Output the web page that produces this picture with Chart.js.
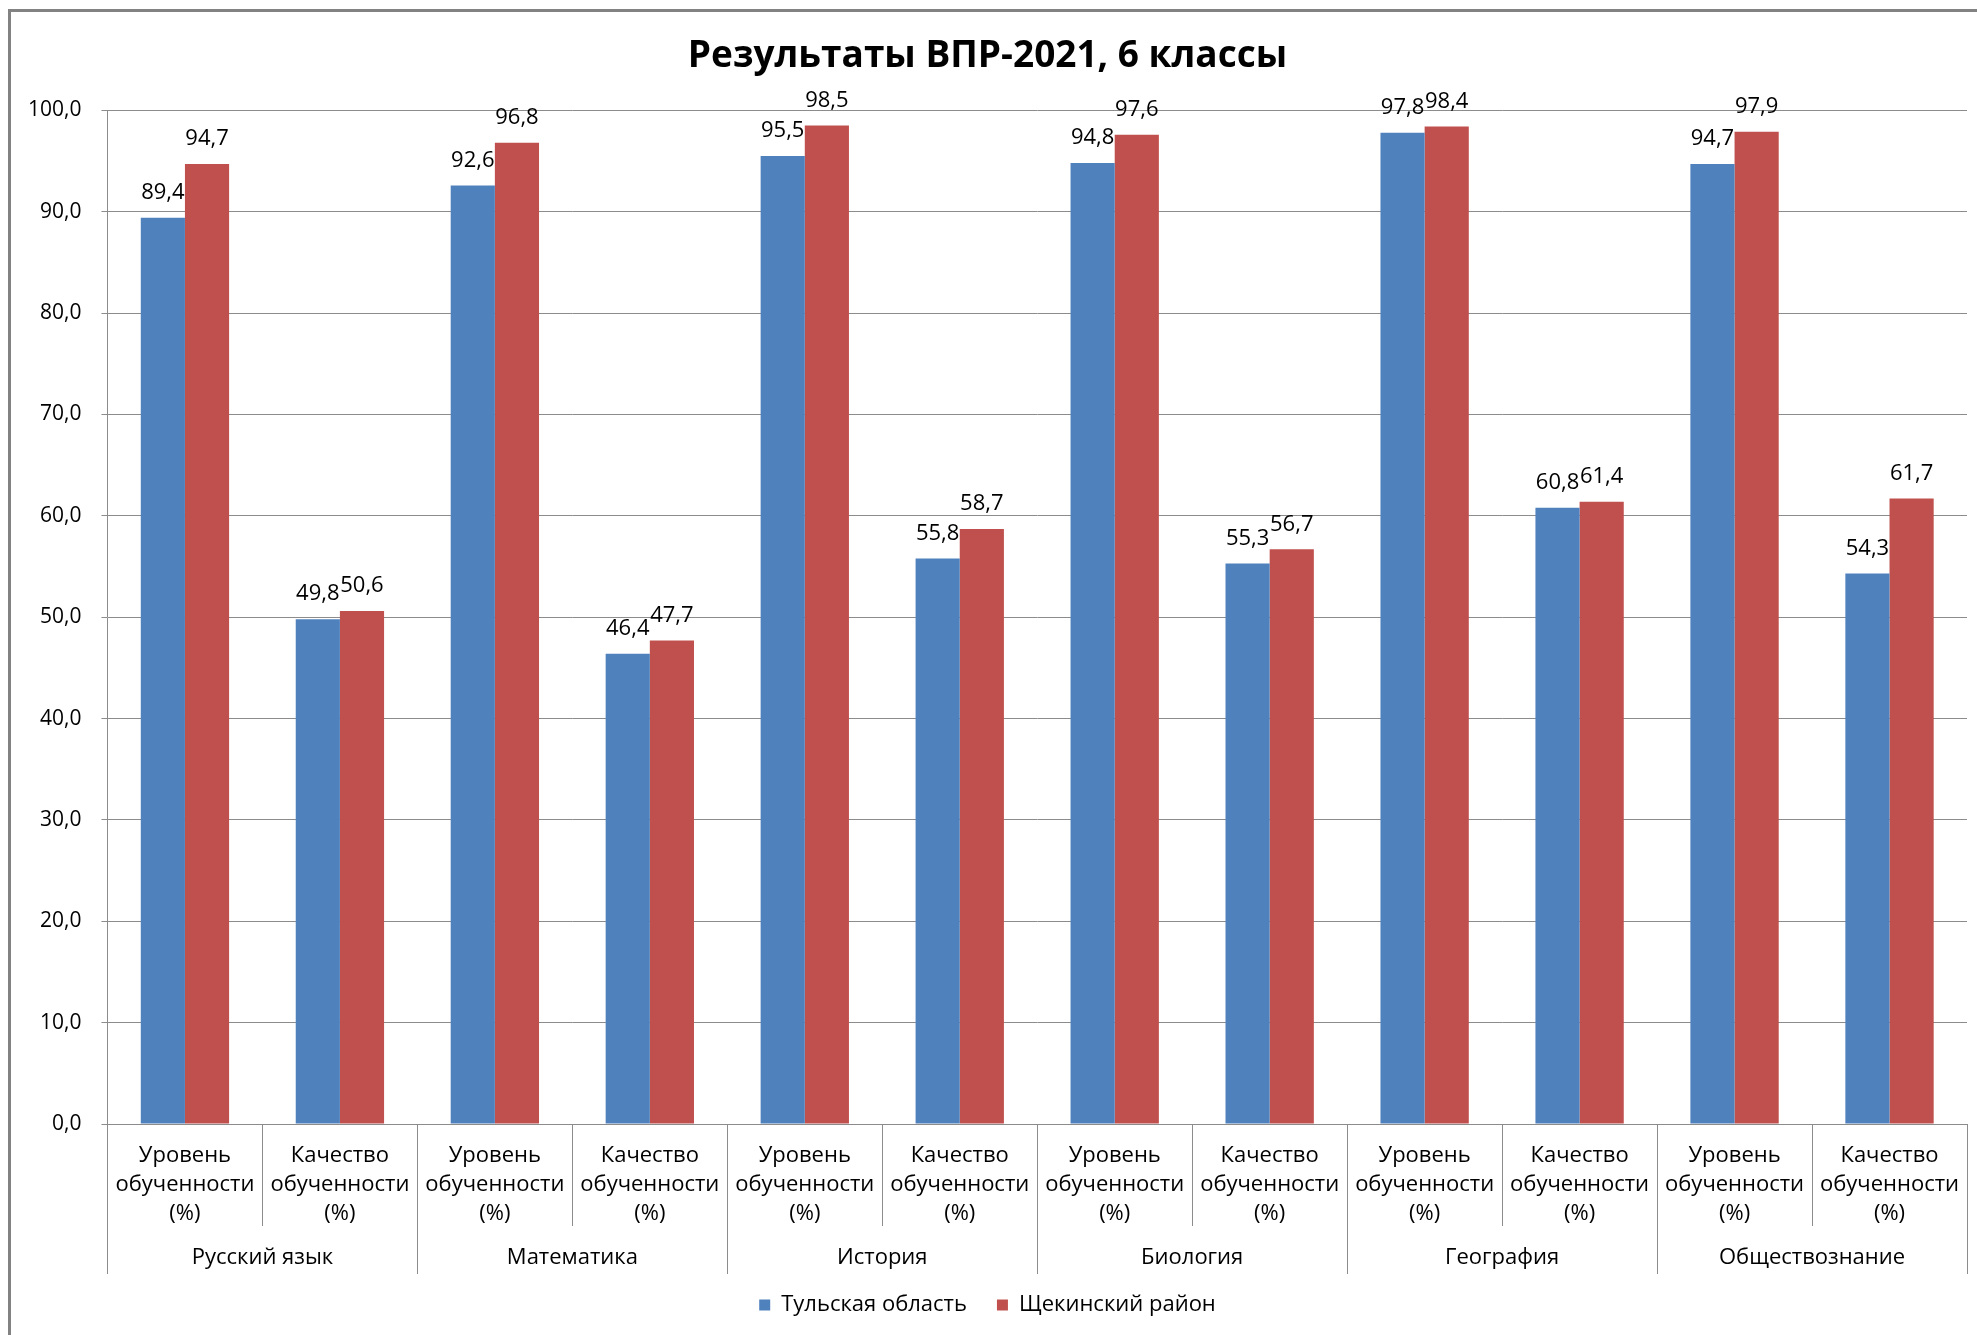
<!DOCTYPE html>
<html lang="ru">
<head>
<meta charset="utf-8">
<title>Результаты ВПР-2021, 6 классы</title>
<script src="https://cdn.jsdelivr.net/npm/chart.js@4"></script>
<style>
  html, body { margin: 0; padding: 0; background: #fff; overflow: hidden; }
  #frame {
    position: absolute; left: 8px; top: 9px;
    width: 2100px; height: 1500px;
    border: 3px solid #828282;
  }
  #chart { position: absolute; left: 0; top: 0; }
</style>
</head>
<body>
<div id="frame"></div>
<canvas id="chart" width="1977" height="1335"></canvas>
<script>
// categories
const subjects = ["Русский язык", "Математика", "История", "Биология", "География", "Обществознание"];
const measures = [
    ["Уровень", "обученности", "(%)"],
    ["Качество", "обученности", "(%)"]
];

// series values
const tulaRegion = [89.4, 49.8, 92.6, 46.4, 95.5, 55.8, 94.8, 55.3, 97.8, 60.8, 94.7, 54.3];
const shchekinoDistrict = [94.7, 50.6, 96.8, 47.7, 98.5, 58.7, 97.6, 56.7, 98.4, 61.4, 97.9, 61.7];

// y ticks
const yMin = 0, yMax = 100, yStep = 10;

const FONT = "'Open Sans', 'DejaVu Sans', sans-serif";
const TXT = 22;
const fmt = v => v.toFixed(1).replace(".", ",");

const labels = [];
subjects.forEach(() => measures.forEach(m => labels.push(m)));

// value labels above each bar
const barValues = {
    id: "barValues",
    afterDatasetsDraw(chart) {
        const ctx = chart.ctx;
        ctx.save();
        ctx.font = TXT + "px " + FONT;
        ctx.fillStyle = "#000";
        ctx.textAlign = "center";
        ctx.textBaseline = "middle";
        chart.data.datasets.forEach((ds, i) => {
            chart.getDatasetMeta(i).data.forEach((bar, j) => {
                ctx.fillText(fmt(ds.data[j]), bar.x, bar.y - 25);
            });
        });
        ctx.restore();
    }
};

// two-level category axis: dividers + subject names
const groupAxis = {
    id: "groupAxis",
    afterDraw(chart) {
        const x = chart.scales.x;
        const ctx = chart.ctx;
        const n = labels.length;
        const top = x.top;
        const innerBottom = top + 102;
        const groupBottom = top + 150;
        const edge = i => {
            if (i === 0) return x.left;
            if (i === n) return x.right;
            return (x.getPixelForValue(i - 1) + x.getPixelForValue(i)) / 2;
        };
        ctx.save();
        ctx.strokeStyle = "#8c8c8c";
        ctx.lineWidth = 1;
        for (let i = 0; i <= n; i++) {
            const px = Math.round(edge(i)) + 0.5;
            ctx.beginPath();
            ctx.moveTo(px, top);
            ctx.lineTo(px, i % measures.length === 0 ? groupBottom : innerBottom);
            ctx.stroke();
        }
        ctx.font = TXT + "px " + FONT;
        ctx.fillStyle = "#000";
        ctx.textAlign = "center";
        ctx.textBaseline = "middle";
        subjects.forEach((s, g) => {
            const a = edge(g * measures.length), b = edge((g + 1) * measures.length);
            ctx.fillText(s, (a + b) / 2, top + 134);
        });
        ctx.restore();
    }
};

new Chart(document.getElementById("chart"), {
    type: "bar",
    data: {
        labels: labels,
        datasets: [
            { label: "Тульская область", data: tulaRegion, backgroundColor: "#4f81bd" },
            { label: "Щекинский район", data: shchekinoDistrict, backgroundColor: "#c0504d" }
        ]
    },
    options: {
        responsive: false,
        animation: false,
        devicePixelRatio: 1,
        layout: { padding: { left: 8, right: 10, top: 0, bottom: 9 } },
        datasets: {
            bar: { categoryPercentage: 0.57, barPercentage: 1.0 }
        },
        plugins: {
            title: {
                display: true,
                text: "Результаты ВПР-2021, 6 классы",
                color: "#000",
                font: { family: FONT, size: 37, weight: "bold" },
                padding: { top: 34, bottom: 32 }
            },
            legend: {
                position: "bottom",
                labels: {
                    color: "#000",
                    font: { family: FONT, size: TXT },
                    boxWidth: 11,
                    boxHeight: 11,
                    padding: 30
                }
            },
            tooltip: { enabled: false }
        },
        scales: {
            x: {
                grid: { display: false },
                border: { display: true, color: "#8c8c8c" },
                ticks: {
                    color: "#000",
                    font: { family: FONT, size: TXT, lineHeight: 1.32 },
                    padding: 9,
                    maxRotation: 0,
                    autoSkip: false
                },
                afterFit(scale) { scale.height = 140; }
            },
            y: {
                min: yMin,
                max: yMax,
                grid: { color: "#8c8c8c", tickLength: 6 },
                border: { color: "#8c8c8c" },
                ticks: {
                    stepSize: yStep,
                    color: "#000",
                    padding: 20,
                    font: { family: FONT, size: 21 },
                    callback: v => fmt(v)
                }
            }
        }
    },
    plugins: [barValues, groupAxis]
});
</script>
</body>
</html>
